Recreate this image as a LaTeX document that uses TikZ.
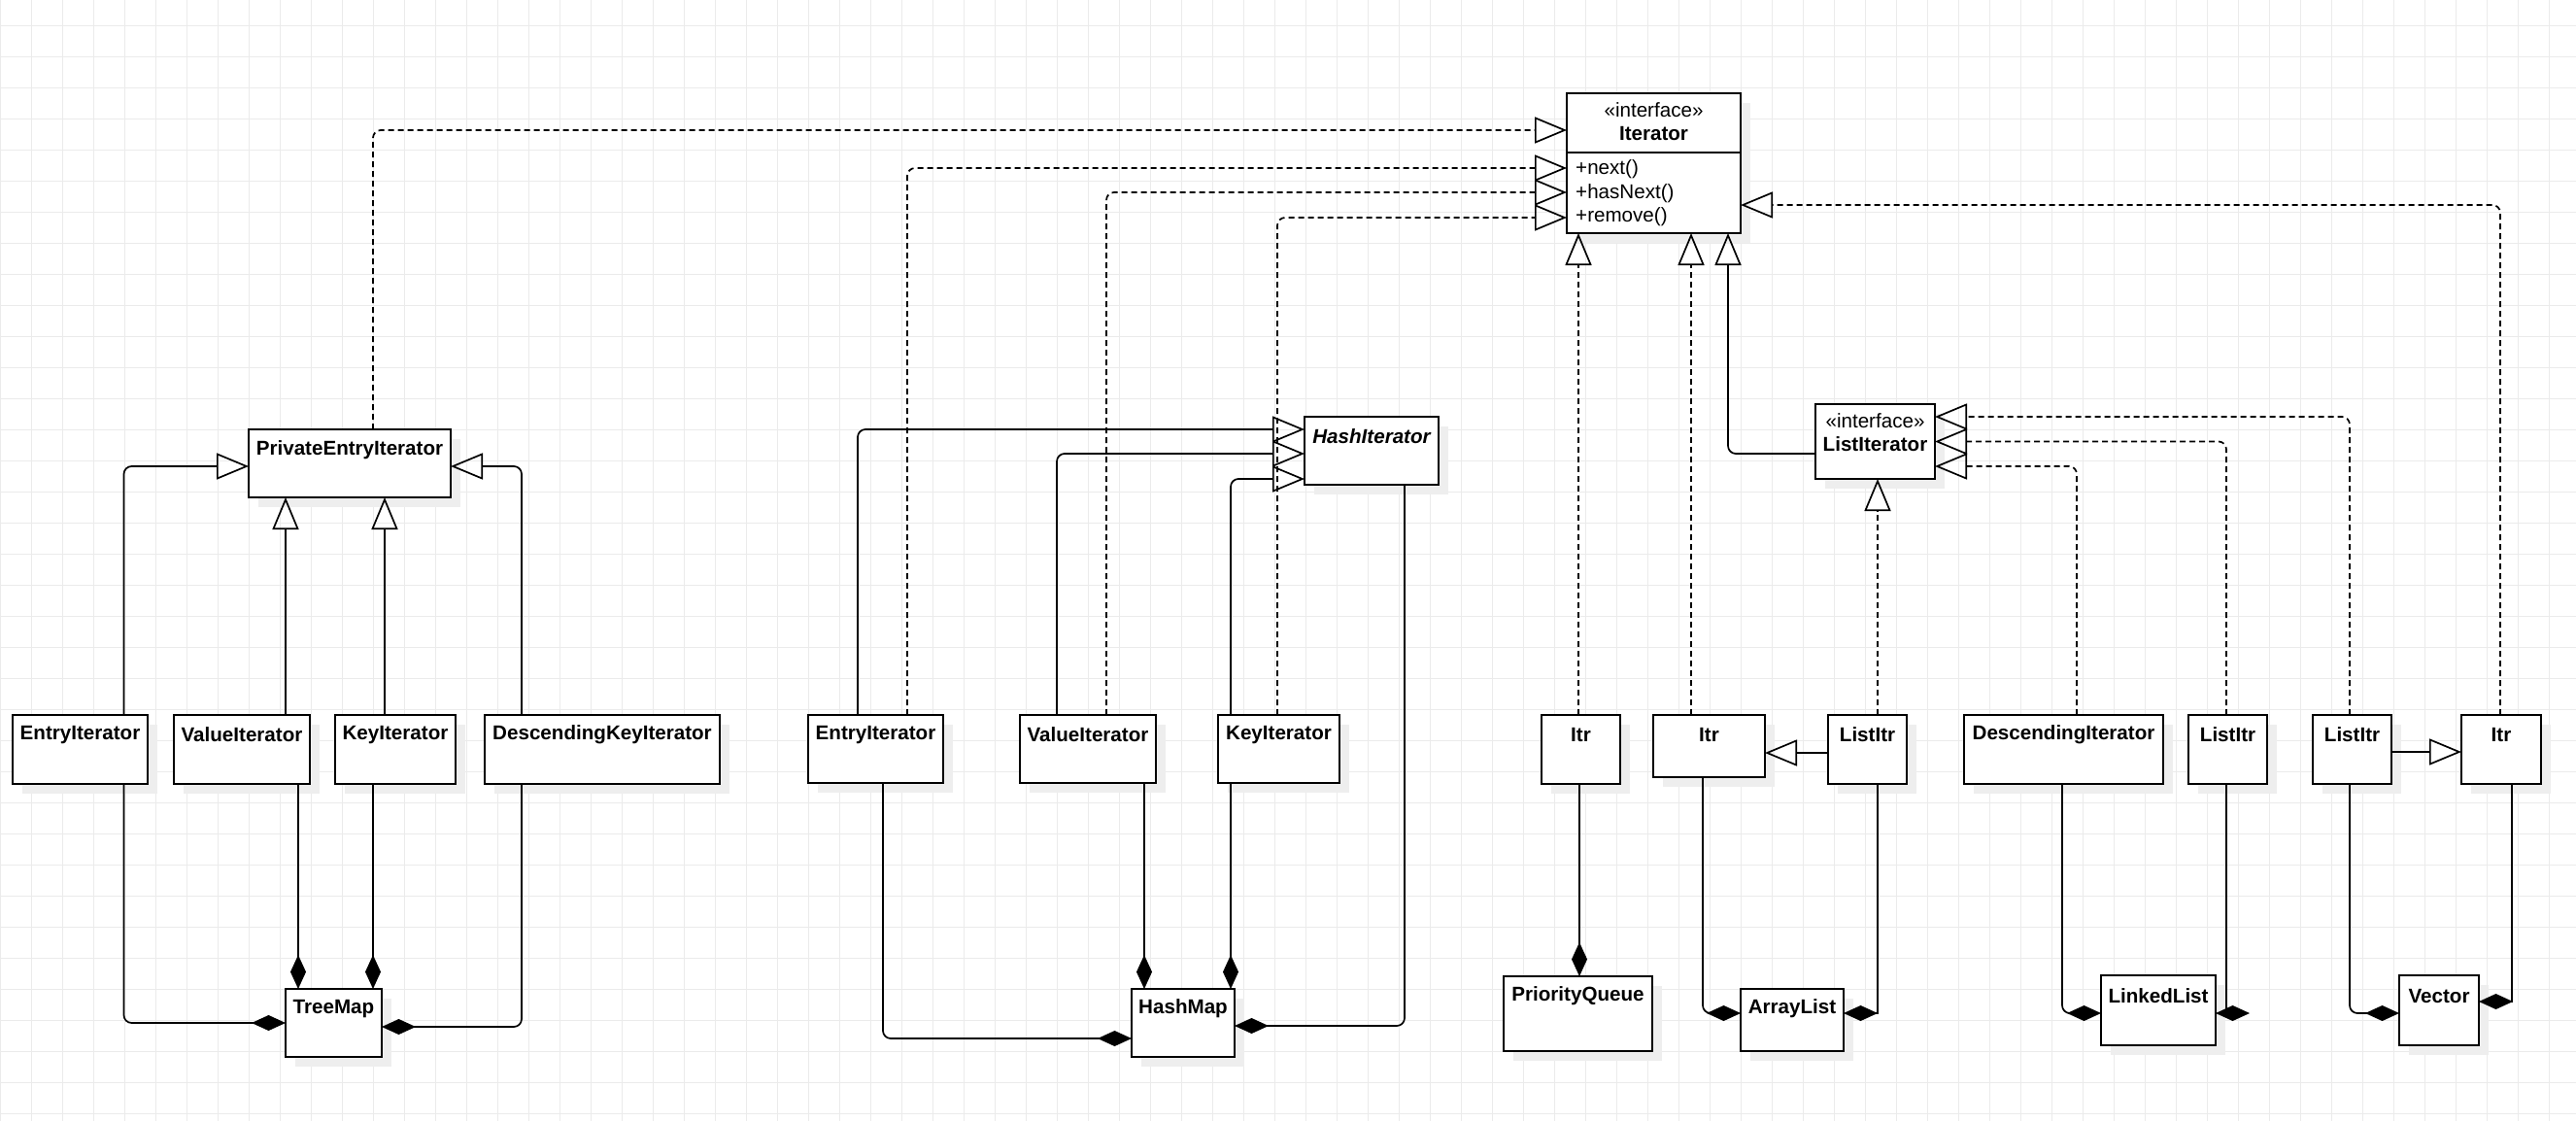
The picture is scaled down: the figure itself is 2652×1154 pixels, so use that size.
\documentclass[tikz,border=0pt]{standalone}
\usepackage{fontspec}
\setmainfont{Liberation Sans}
\usetikzlibrary{arrows.meta,shadows}
\definecolor{gridc}{RGB}{235,235,235}
\definecolor{shadc}{RGB}{238,238,238}
\begin{document}
\begin{tikzpicture}[x=1pt,y=-1pt,
  cls/.style={draw, line width=1.7pt, fill=white, anchor=north west, inner sep=0pt, outer sep=0pt,
    drop shadow={shadow xshift=10pt, shadow yshift=-10pt, fill=shadc, opacity=1}},
  lbl/.style={font=\fontsize{20.6}{24.5}\selectfont\bfseries, inner sep=0pt},
  plain/.style={font=\fontsize{20.6}{24.5}\selectfont, inner sep=0pt},
  conn/.style={line width=1.7pt, rounded corners=8pt},
  gen/.style={conn, -{Triangle[open, length=33pt, width=27pt]}},
  real/.style={gen, dash pattern=on 6pt off 4pt},
  comp/.style={conn, -{Diamond[length=35pt, width=16pt]}},
  compsharp/.style={comp, sharp corners},
  gridline/.style={gridc, line width=1pt}]
\useasboundingbox (0,0) rectangle (2652,1154);
\fill[white] (0,0) rectangle (2652,1154);
\foreach \i in {0,...,82} \draw[gridline] (\i*32+0.5,0) -- (\i*32+0.5,1154);
\foreach \j in {0,...,35} \draw[gridline] (0,\j*32+26) -- (2652,\j*32+26);

% ---------- Iterator ----------
\node[cls, minimum width=179pt, minimum height=144pt] (iter) at (1613,96) {};
\draw[line width=1.7pt] ([yshift=-61pt]iter.north west) -- ([yshift=-61pt]iter.north east);
\node[plain, align=center, font=\fontsize{20.6}{24}\selectfont] (iterhd) at ([yshift=-29pt]iter.north) {«interface»\\\textbf{Iterator}};
\node[plain, anchor=west, align=left] (itermeth) at ([xshift=9pt,yshift=-31pt]iter.west) {+next()\\+hasNext()\\+remove()};

% ---------- TreeMap group ----------
\node[cls, minimum width=208pt, minimum height=70pt] (pei) at (256,442) {};
\node[lbl] (pei-t) at ([yshift=-21pt]pei.north) {PrivateEntryIterator};
\node[cls, minimum width=139pt, minimum height=71pt] (tei) at (13,736) {};
\node[lbl] (tei-t) at ([yshift=-20.5pt]tei.north) {EntryIterator};
\node[cls, minimum width=140pt, minimum height=71pt] (tvi) at (179,736) {};
\node[lbl] (tvi-t) at ([yshift=-20.5pt]tvi.north) {ValueIterator};
\node[cls, minimum width=124pt, minimum height=71pt] (tki) at (345,736) {};
\node[lbl] (tki-t) at ([yshift=-20.5pt]tki.north) {KeyIterator};
\node[cls, minimum width=242pt, minimum height=71pt] (tdki) at (499,736) {};
\node[lbl] (tdki-t) at ([yshift=-20.5pt]tdki.north) {DescendingKeyIterator};
\node[cls, minimum width=99pt, minimum height=70pt] (tm) at (294,1018) {};
\node[lbl] (tm-t) at ([yshift=-21pt]tm.north) {TreeMap};

% ---------- HashMap group ----------
\node[cls, minimum width=138pt, minimum height=70pt] (hi) at (1343,429) {};
\node[lbl, font=\fontsize{20.6}{24.5}\selectfont\bfseries\itshape] (hi-t) at ([yshift=-20.5pt]hi.north) {HashIterator};
\node[cls, minimum width=139pt, minimum height=70pt] (hei) at (832,736) {};
\node[lbl] (hei-t) at ([yshift=-20.5pt]hei.north) {EntryIterator};
\node[cls, minimum width=140pt, minimum height=70pt] (hvi) at (1050,736) {};
\node[lbl] (hvi-t) at ([yshift=-20.5pt]hvi.north) {ValueIterator};
\node[cls, minimum width=125pt, minimum height=70pt] (hki) at (1254,736) {};
\node[lbl] (hki-t) at ([yshift=-20.5pt]hki.north) {KeyIterator};
\node[cls, minimum width=106pt, minimum height=70pt] (hm) at (1165,1018) {};
\node[lbl] (hm-t) at ([yshift=-20.5pt]hm.north) {HashMap};

% ---------- List group ----------
\node[cls, minimum width=123pt, minimum height=77pt] (lit) at (1869,416) {};
\node[plain, align=center, font=\fontsize{20.6}{24}\selectfont] (lit-t) at ([yshift=-29pt]lit.north) {«interface»\\\textbf{ListIterator}};
\node[cls, minimum width=81pt, minimum height=71pt] (pqitr) at (1587,736) {};
\node[lbl] (pqitr-t) at ([yshift=-20.5pt]pqitr.north) {Itr};
\node[cls, minimum width=115pt, minimum height=64pt] (alitr) at (1702,736) {};
\node[lbl] (alitr-t) at ([yshift=-20.5pt]alitr.north) {Itr};
\node[cls, minimum width=81pt, minimum height=71pt] (allitr) at (1882,736) {};
\node[lbl] (allitr-t) at ([yshift=-20.5pt]allitr.north) {ListItr};
\node[cls, minimum width=205pt, minimum height=71pt] (lldi) at (2022,736) {};
\node[lbl] (lldi-t) at ([yshift=-20.5pt]lldi.north) {DescendingIterator};
\node[cls, minimum width=81pt, minimum height=71pt] (lllitr) at (2253,736) {};
\node[lbl] (lllitr-t) at ([yshift=-20.5pt]lllitr.north) {ListItr};
\node[cls, minimum width=81pt, minimum height=71pt] (vlitr) at (2381,736) {};
\node[lbl] (vlitr-t) at ([yshift=-20.5pt]vlitr.north) {ListItr};
\node[cls, minimum width=82pt, minimum height=71pt] (vitr) at (2534,736) {};
\node[lbl] (vitr-t) at ([yshift=-20.5pt]vitr.north) {Itr};
\node[cls, minimum width=153pt, minimum height=77pt] (pq) at (1548,1005) {};
\node[lbl] (pq-t) at ([yshift=-20.5pt]pq.north) {PriorityQueue};
\node[cls, minimum width=106pt, minimum height=64pt] (al) at (1792,1018) {};
\node[lbl] (al-t) at ([yshift=-20.5pt]al.north) {ArrayList};
\node[cls, minimum width=118pt, minimum height=72pt] (ll) at (2163,1004) {};
\node[lbl] (ll-t) at ([yshift=-21pt]ll.north) {LinkedList};
\node[cls, minimum width=82pt, minimum height=72pt] (vec) at (2470,1004) {};
\node[lbl] (vec-t) at ([yshift=-21pt]vec.north) {Vector};

% ---------- helper coordinates ----------
\coordinate (g2) at ([xshift=-66pt]pei.south);
\coordinate (g3) at ([xshift=36pt]pei.south);
\coordinate (c2) at ([xshift=-36.5pt]tm.north);
\coordinate (c3) at ([xshift=40.5pt]tm.north);
\coordinate (c6) at ([xshift=-40pt]hm.north);
\coordinate (c7) at ([xshift=49pt]hm.north);
\coordinate (r5) at ([xshift=-77.5pt]iter.south);
\coordinate (r6) at ([xshift=38.5pt]iter.south);
\coordinate (r7) at ([xshift=2.5pt]lit.south);
\coordinate (c9) at ([xshift=1.5pt]pq.north);
\coordinate (g9) at ([yshift=-7pt]alitr.east);
\coordinate (g10) at ([yshift=-2.5pt]vitr.west);

% ---------- TreeMap connectors ----------
\draw[gen] ([xshift=45pt]tei.north) |- ([yshift=-3pt]pei.west);
\draw[gen] (tvi.north -| g2) -- (g2);
\draw[gen] (tki.north -| g3) -- (g3);
\draw[gen] ([xshift=-83pt]tdki.north) |- ([yshift=-3pt]pei.east);
\draw[real] ([xshift=24pt]pei.north) |- ([yshift=34pt]iter.west);
\draw[comp] ([xshift=45pt]tei.south) |- (tm.west);
\draw[comp] (tvi.south -| c2) -- (c2);
\draw[comp] (tki.south -| c3) -- (c3);
\draw[comp] ([xshift=-83pt]tdki.south) |- ([yshift=-4pt]tm.east);

% ---------- HashMap connectors ----------
\draw[gen] ([xshift=-18.5pt]hei.north) |- ([yshift=22pt]hi.west);
\draw[gen] ([xshift=-32pt]hvi.north) |- ([yshift=-3pt]hi.west);
\draw[gen] ([xshift=-49.5pt]hki.north) |- ([yshift=-29pt]hi.west);
\draw[real] ([xshift=32.5pt]hei.north) |- ([yshift=-5pt]iter.west);
\draw[real] ([xshift=19pt]hvi.north) |- ([yshift=-30pt]iter.west);
\draw[real] ([xshift=-1.5pt]hki.north) |- ([yshift=-56pt]iter.west);
\draw[comp] ([xshift=7.5pt]hei.south) |- ([yshift=-16pt]hm.west);
\draw[comp] (hvi.south -| c6) -- (c6);
\draw[comp] (hki.south -| c7) -- (c7);
\draw[comp] ([xshift=34pt]hi.south) |- ([yshift=-3pt]hm.east);

% ---------- List connectors ----------
\draw[real] (pqitr.north -| r5) -- (r5);
\draw[real] (alitr.north -| r6) -- (r6);
\draw[gen] ([yshift=-12.5pt]lit.west) -| ([xshift=76.5pt]iter.south);
\draw[real] (allitr.north -| r7) -- (r7);
\draw[gen] (allitr.west |- g9) -- (g9);
\draw[real] ([xshift=13.5pt]lldi.north) |- ([yshift=-25.5pt]lit.east);
\draw[real] ([xshift=-1.5pt]lllitr.north) |- (lit.east);
\draw[real] ([xshift=-2.5pt]vlitr.north) |- ([yshift=25.5pt]lit.east);
\draw[real] ([xshift=-1pt]vitr.north) |- ([yshift=-43pt]iter.east);
\draw[gen] (vlitr.east |- g10) -- (g10);
\draw[comp] (pqitr.south -| c9) -- (c9);
\draw[comp] ([xshift=-6.5pt]alitr.south) |- ([yshift=7pt]al.west);
\draw[compsharp] ([xshift=10.5pt]allitr.south) |- ([yshift=7pt]al.east);
\draw[comp] ([xshift=-1.5pt]lldi.south) |- ([yshift=-3pt]ll.west);
\draw[compsharp] ([xshift=-1.5pt]lllitr.south) |- ([yshift=-3pt]ll.east);
\draw[comp] ([xshift=-2.5pt]vlitr.south) |- ([yshift=-3pt]vec.west);
\draw[compsharp] ([xshift=11pt]vitr.south) |- ([yshift=9pt]vec.east);
\end{tikzpicture}
\end{document}
